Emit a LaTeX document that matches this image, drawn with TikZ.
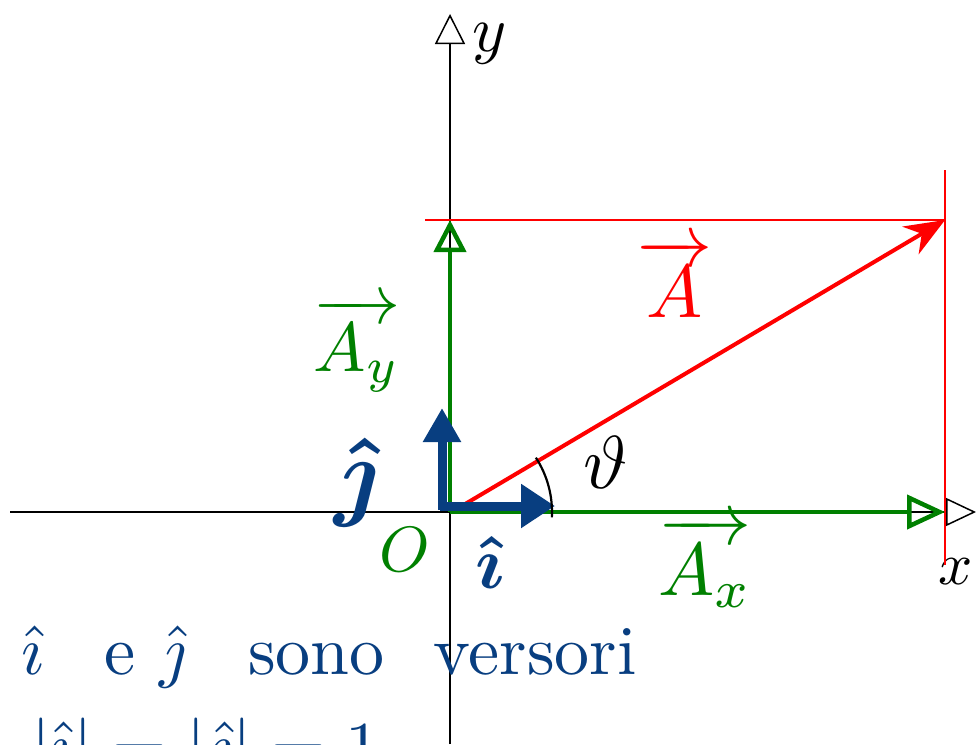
\documentclass[tikz,border=0pt]{standalone}
\usepackage{amsmath,amssymb,bm}
\usepackage{tikz}
\usetikzlibrary{arrows.meta}
\definecolor{penred}{RGB}{255,0,0}
\definecolor{pengreen}{RGB}{0,128,0}
\definecolor{penblue}{RGB}{8,62,128}

\begin{document}
\begin{tikzpicture}[x=1pt, y=-1pt,
  big/.style={scale=7.5},
  huge/.style={scale=10},
  txt/.style={scale=7, text=penblue, anchor=base west, inner sep=0pt}]
\clip (0,0) rectangle (976,744);
\useasboundingbox (0,0) rectangle (976,744);
% axes
\coordinate (O) at (450,512);
\coordinate (xl) at (10,512);
\coordinate (xr) at (976,512);
\coordinate (yb) at (450,744);
\coordinate (yt) at (450,14);
\draw[line width=1.5, -{Triangle[open,length=30,width=28]}] (xl) -- (xr);
\draw[line width=1.5, -{Triangle[open,length=30,width=30]}] (yb) -- (yt);
\node[scale=6.5] (ylab) at (490,44) {$y$};
\node[scale=6] (xlab) at (956,572) {$x$};
% projections
\coordinate (P) at (945,220);
\draw[penred, line width=1.3] (425,220) -- (P);
\draw[penred, line width=1.3] (945,170) -- (945,565);
% vector A
\draw[penred, line width=4, -{Stealth[length=40,width=32]}] (455,510) -- (P);
\node[big, text=penred] (Alab) at (675,278) {$\overrightarrow{A}$};
% components
\draw[pengreen, line width=4.5, -{Triangle[open,length=38,width=34]}] (O) -- (945,512);
\draw[pengreen, line width=4.5, -{Triangle[open,length=32,width=32]}] (O) -- (450,220);
\node[big, text=pengreen] (Axlab) at (705,562) {$\overrightarrow{A_x}$};
\node[scale=7, text=pengreen] (Aylab) at (357,345) {$\overrightarrow{A_y}$};
\node[text=pengreen, scale=6.4] (Olab) at (405,550) {$O$};
% versori
\draw[penblue, line width=9, -{Triangle[length=34,width=42]}] (440,506) -- (555,506);
\draw[penblue, line width=9, -{Triangle[length=34,width=36]}] (442,510) -- (442,408);
\node[huge, text=penblue] (jlab) at (356,482) {$\bm{\hat\jmath}$};
\node[big, text=penblue] (ilab) at (490,562) {$\bm{\hat\imath}$};
% angle
\draw[line width=2.2] ([shift={(3:102)}]O) arc[start angle=3, end angle=-33, radius=100];
\node[big] (th) at (606,462) {$\vartheta$};
% note
\node[txt] (note1) at (20,674) {$\hat\imath$\hspace{0.86em}e\hspace{0.34em}$\hat\jmath$\hspace{0.89em}sono\hspace{0.7em}versori};
\node[txt] (note2) at (30,770) {$|\hat\imath|=|\hat\jmath|=1$};
\end{tikzpicture}
\end{document}
